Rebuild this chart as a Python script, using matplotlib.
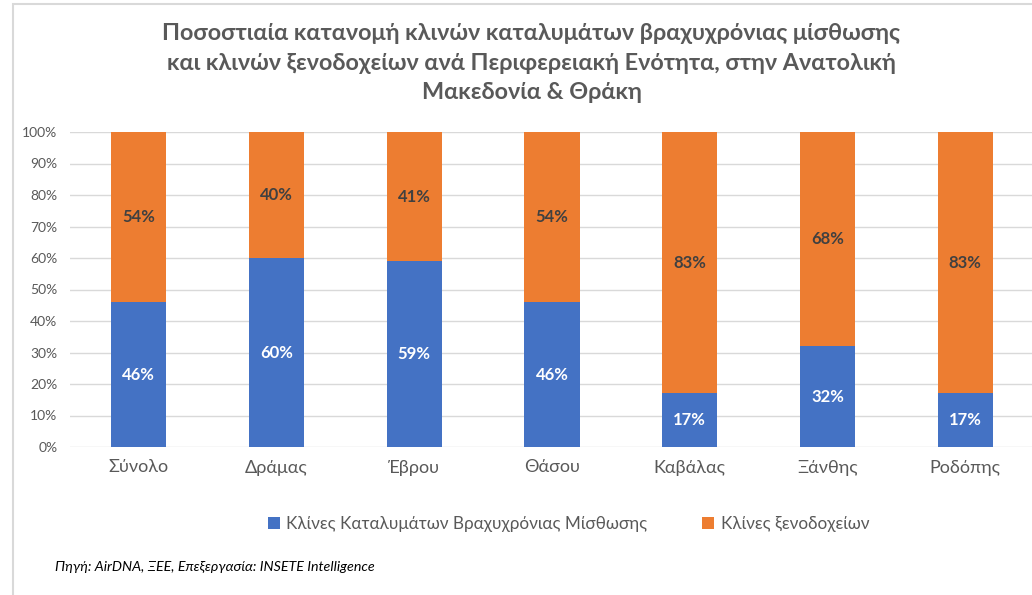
import numpy as np
import matplotlib.pyplot as plt
from matplotlib.patches import Rectangle
from matplotlib.ticker import PercentFormatter

# Data
regions = ['Σύνολο', 'Δράμας', 'Έβρου', 'Θάσου', 'Καβάλας', 'Ξάνθης', 'Ροδόπης']
short_term = [46, 60, 59, 46, 17, 32, 17]  # Κλίνες Καταλυμάτων Βραχυχρόνιας Μίσθωσης (%)
hotels = [54, 40, 41, 54, 83, 68, 83]      # Κλίνες ξενοδοχείων (%)

blue = '#4472C4'
orange = '#ED7D31'
grey = '#595959'

plt.rcParams['font.family'] = ['Lato', 'DejaVu Sans']

fig = plt.figure(figsize=(10.32, 5.95), dpi=100)
ax = fig.add_axes([70/1032, 1-447/595, (1032-70)/1032, 315/595])

x = np.arange(len(regions))
b1 = ax.bar(x, short_term, width=0.4, color=blue, label='Κλίνες Καταλυμάτων Βραχυχρόνιας Μίσθωσης', zorder=3)
b2 = ax.bar(x, hotels, width=0.4, bottom=short_term, color=orange, label='Κλίνες ξενοδοχείων', zorder=3)

for i in range(len(regions)):
    ax.text(x[i], short_term[i]/2, f'{short_term[i]}%', ha='center', va='center',
            color='white', fontsize=12, fontweight='bold', zorder=4)
    ax.text(x[i], short_term[i] + hotels[i]/2, f'{hotels[i]}%', ha='center', va='center',
            color='#404040', fontsize=12, fontweight='bold', zorder=4)

ax.set_ylim(0, 100)
ax.set_xlim(-0.5, 6.5 - 2/137.7)
ax.set_yticks(np.arange(0, 101, 10))
ax.yaxis.set_major_formatter(PercentFormatter(decimals=0))
ax.set_xticks(x)
ax.set_xticklabels(regions, fontsize=13, color=grey)
ax.tick_params(axis='y', labelsize=10, labelcolor=grey, length=0, pad=9)
ax.tick_params(axis='x', length=0, pad=9)
ax.grid(axis='y', color='#d9d9d9', linewidth=1, zorder=0)
for s in ax.spines.values():
    s.set_visible(False)

fig.text(0.515, 1-63/595, 'Ποσοστιαία κατανομή κλινών καταλυμάτων βραχυχρόνιας μίσθωσης\n'
         'και κλινών ξενοδοχείων ανά Περιφερειακή Ενότητα, στην Ανατολική\n'
         'Μακεδονία & Θράκη', ha='center', va='center', fontsize=16.8, fontweight='bold',
         color=grey, linespacing=1.5)

fig.legend(loc='center', bbox_to_anchor=(0.551, 1-524/595), ncol=2, frameon=False,
           fontsize=12.3, labelcolor=grey, handlelength=0.7, handleheight=0.7,
           handletextpad=0.4, columnspacing=3.2)

fig.text(55/1032, 1-567/595, 'Πηγή: AirDNA, ΞΕΕ, Επεξεργασία: INSETE Intelligence',
         ha='left', va='center', fontsize=10.3, style='italic', color='black')

# light border of the chart area (top and left)
fig.add_artist(Rectangle((13/1032, -0.1), 1.2, 1 - 4/595 + 0.1, transform=fig.transFigure,
                         fill=False, edgecolor='#d9d9d9', linewidth=1.5))

fig.savefig('out.png', dpi=100)
